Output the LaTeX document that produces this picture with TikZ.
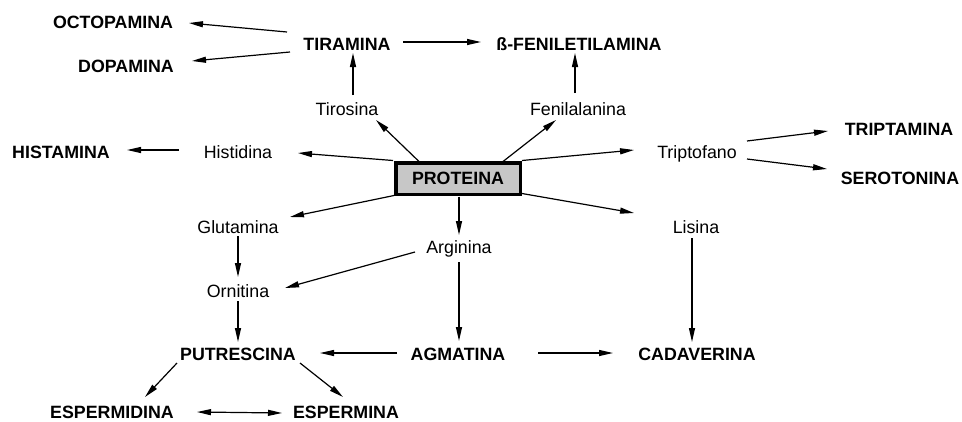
\documentclass[tikz,border=0pt]{standalone}
\usepackage{fontspec}
\setmainfont{Liberation Sans}
\usetikzlibrary{arrows.meta}
\begin{document}
\begin{tikzpicture}[x=1pt,y=-1pt,
  lbl/.style={font=\fontsize{17.8}{20}\selectfont, text height=12.6pt, text depth=0pt, inner sep=0pt},
  prod/.style={lbl, font=\fontsize{17.8}{20}\selectfont\bfseries},
  arr/.style={line width=1.2pt, -{Triangle[length=14pt,width=6pt]}},
  darr/.style={line width=1.2pt, {Triangle[length=14pt,width=6pt]}-{Triangle[length=14pt,width=6pt]}},
  protbox/.style={draw, line width=3.5pt, fill=black!22, minimum width=124.5pt, minimum height=31.5pt, font=\fontsize{17.8}{20}\selectfont\bfseries, text height=12.6pt, text depth=0pt}
]
\useasboundingbox (0,0) rectangle (962,421);
% nodes
\node[prod] (oct) at (113,22) {OCTOPAMINA};
\node[prod] (dop) at (126,66) {DOPAMINA};
\node[prod] (tir) at (347,44) {TIRAMINA};
\node[prod] (fen) at (579,44) {ß-FENILETILAMINA};
\node[lbl] (tiro) at (347,109) {Tirosina};
\node[lbl] (feni) at (578,109) {Fenilalanina};
\node[prod] (hista) at (61,152) {HISTAMINA};
\node[lbl] (histi) at (238,152) {Histidina};
\node[protbox] (prot) at (458,178.5) {PROTEINA};
\node[lbl] (trip) at (697,152) {Triptofano};
\node[prod] (tripta) at (899,129) {TRIPTAMINA};
\node[prod] (sero) at (900,178) {SEROTONINA};
\node[lbl] (glu) at (238,227) {Glutamina};
\node[lbl] (arg) at (459,247) {Arginina};
\node[lbl] (lis) at (696,227) {Lisina};
\node[lbl] (orn) at (238,291) {Ornitina};
\node[prod] (put) at (238,354) {PUTRESCINA};
\node[prod] (agm) at (458,354) {AGMATINA};
\node[prod] (cad) at (697,354) {CADAVERINA};
\node[prod] (espd) at (112,412) {ESPERMIDINA};
\node[prod] (espm) at (346,412) {ESPERMINA};
% connectors
\draw[arr] ([shift={(-60,-12)}]tir.center) -- ([shift={(76,1)}]oct.center);
\draw[arr] ([shift={(-57,8)}]tir.center) -- ([shift={(66,-5)}]dop.center);
\draw[arr] ([shift={(56,-2)}]tir.center) -- ([shift={(-98,-2)}]fen.center);
\draw[arr] ([shift={(6,-14)}]tiro.center) -- ([shift={(6,9)}]tir.center);
\draw[arr] ([shift={(-3,-16)}]feni.center) -- ([shift={(-4,9)}]fen.center);
\draw[arr] ([shift={(-39,-17)}]prot.center) -- ([shift={(29,11)}]tiro.center);
\draw[arr] ([shift={(45,-17)}]prot.center) -- ([shift={(-22,11)}]feni.center);
\draw[arr] ([shift={(-65,-18)}]prot.center) -- ([shift={(60,1)}]histi.center);
\draw[arr] ([shift={(-59,-2)}]histi.center) -- ([shift={(66,-2)}]hista.center);
\draw[arr] ([shift={(64,-18)}]prot.center) -- ([shift={(-63,-2)}]trip.center);
\draw[arr] ([shift={(50,-11)}]trip.center) -- ([shift={(-71,2)}]tripta.center);
\draw[arr] ([shift={(50,7)}]trip.center) -- ([shift={(-73,-9)}]sero.center);
\draw[arr] ([shift={(-64,17)}]prot.center) -- ([shift={(52,-10)}]glu.center);
\draw[arr] ([shift={(1,18)}]prot.center) -- ([shift={(0,-12)}]arg.center);
\draw[arr] ([shift={(64,15)}]prot.center) -- ([shift={(-62,-14)}]lis.center);
\draw[arr] ([shift={(0,9)}]glu.center) -- ([shift={(0,-14)}]orn.center);
\draw[arr] ([shift={(-44,5)}]arg.center) -- ([shift={(47,-3)}]orn.center);
\draw[arr] ([shift={(0,15)}]arg.center) -- ([shift={(1,-13)}]agm.center);
\draw[arr] ([shift={(-4,11)}]lis.center) -- ([shift={(-5,-12)}]cad.center);
\draw[arr] ([shift={(0,10)}]orn.center) -- ([shift={(0,-12)}]put.center);
\draw[arr] ([shift={(-61,-1)}]agm.center) -- ([shift={(82,-1)}]put.center);
\draw[arr] ([shift={(80,-1)}]agm.center) -- ([shift={(-84,-1)}]cad.center);
\draw[arr] ([shift={(-61,9)}]put.center) -- ([shift={(33,-15)}]espd.center);
\draw[arr] ([shift={(62,9)}]put.center) -- ([shift={(-3,-15)}]espm.center);
\draw[darr] ([shift={(85,0)}]espd.center) -- ([shift={(-64,1)}]espm.center);
\end{tikzpicture}
\end{document}
